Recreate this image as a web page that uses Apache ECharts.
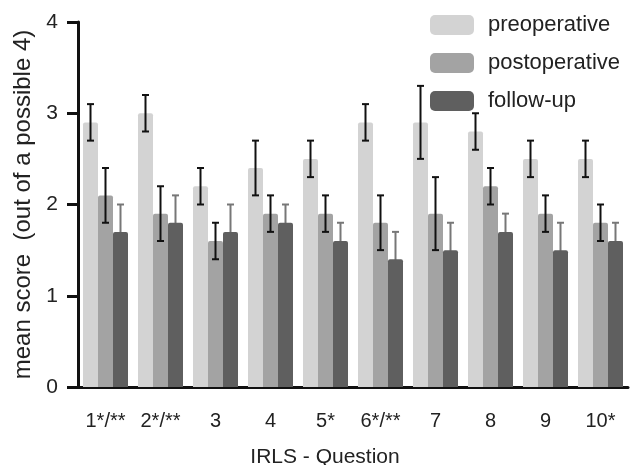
<!DOCTYPE html>
<html>
<head>
<meta charset="utf-8">
<script src="https://cdn.jsdelivr.net/npm/echarts@6/dist/echarts.min.js"></script>
<style>
  html, body { margin: 0; padding: 0; background: #fff; }
  #chart { width: 630px; height: 465px; }
</style>
</head>
<body>
<div id="chart"></div>
<script>
// categories on the x axis
var questions = ['1*/**', '2*/**', '3', '4', '5*', '6*/**', '7', '8', '9', '10*'];
var seriesNames = ['preoperative', 'postoperative', 'follow-up'];

// means
var preMean = [2.9, 3.0, 2.2, 2.4, 2.5, 2.9, 2.9, 2.8, 2.5, 2.5];
var postMean = [2.1, 1.9, 1.6, 1.9, 1.9, 1.8, 1.9, 2.2, 1.9, 1.8];
var followMean = [1.7, 1.8, 1.7, 1.8, 1.6, 1.4, 1.5, 1.7, 1.5, 1.6];

// error (+/-)
var preErr = [0.2, 0.2, 0.2, 0.3, 0.2, 0.2, 0.4, 0.2, 0.2, 0.2];
var postErr = [0.3, 0.3, 0.2, 0.2, 0.2, 0.3, 0.4, 0.2, 0.2, 0.2];
var followErr = [0.3, 0.3, 0.3, 0.2, 0.2, 0.3, 0.3, 0.2, 0.3, 0.2];

var yTicks = [0, 1, 2, 3, 4];

var colors = ['#d3d3d3', '#a3a3a3', '#5f5f5f'];
var barW = 15;
var font = '"Liberation Sans", Arial, sans-serif';

function errData(mean, err) {
    return mean.map(function(m, i) { return [i, m - err[i], m + err[i]]; });
}

// error bar drawing, offset = position of bar in group
function errRender(offset, color, lw) {
    return function(params, api) {
        var idx = api.value(0);
        var lo = api.coord([idx, api.value(1)]);
        var hi = api.coord([idx, api.value(2)]);
        var x = lo[0] + offset;
        var cap = 3.5;
        var st = { stroke: color, lineWidth: lw };
        return {
            type: 'group',
            children: [
                { type: 'line', shape: { x1: x, y1: lo[1], x2: x, y2: hi[1] }, style: st },
                { type: 'line', shape: { x1: x - cap, y1: hi[1], x2: x + cap, y2: hi[1] }, style: st },
                { type: 'line', shape: { x1: x - cap, y1: lo[1], x2: x + cap, y2: lo[1] }, style: st }
            ]
        };
    };
}

function barSeries(name, data, color) {
    return {
        name: name,
        type: 'bar',
        data: data,
        barWidth: barW,
        barGap: '0%',
        z: 3,
        itemStyle: { color: color, borderRadius: [2, 2, 0, 0] }
    };
}

var option = {
    animation: false,
    backgroundColor: '#fff',
    textStyle: { fontFamily: font },
    grid: { left: 78, right: 2, top: 22, bottom: 78, outerBoundsMode: 'none' },
    legend: {
        orient: 'vertical',
        left: 425,
        top: 9,
        itemWidth: 44,
        itemHeight: 20,
        itemGap: 16,
        icon: 'roundRect',
        data: seriesNames,
        textStyle: { fontSize: 22, color: '#222', fontFamily: font, padding: [0, 0, 0, 9] }
    },
    xAxis: {
        type: 'category',
        data: questions,
        boundaryGap: true,
        name: 'IRLS - Question',
        nameLocation: 'middle',
        nameGap: 60,
        nameTextStyle: { fontSize: 21, color: '#222', padding: [0, 56, 0, 0] },
        axisLine: { lineStyle: { color: '#111', width: 3 } },
        axisTick: { alignWithLabel: true, length: 11, lineStyle: { color: '#111', width: 3 } },
        axisLabel: { fontSize: 20, color: '#222', margin: 24 }
    },
    yAxis: {
        type: 'value',
        min: 0,
        max: 4,
        interval: 1,
        name: 'mean score  (out of a possible 4)',
        nameLocation: 'middle',
        nameGap: 25,
        nameTextStyle: { fontSize: 24, color: '#222' },
        axisLine: { show: true, lineStyle: { color: '#111', width: 3 } },
        axisTick: { show: true, length: 11, lineStyle: { color: '#111', width: 3 } },
        axisLabel: {
            fontSize: 21, color: '#222', margin: 20,
            formatter: function(v) { return yTicks.indexOf(v) >= 0 ? String(v) : ''; }
        },
        splitLine: { show: false }
    },
    series: [
        barSeries(seriesNames[0], preMean, colors[0]),
        barSeries(seriesNames[1], postMean, colors[1]),
        barSeries(seriesNames[2], followMean, colors[2]),
        {
            type: 'custom', name: 'preErr', z: 5,
            renderItem: errRender(-barW, '#111', 2),
            encode: { x: 0, y: [1, 2] },
            data: errData(preMean, preErr)
        },
        {
            type: 'custom', name: 'postErr', z: 5,
            renderItem: errRender(0, '#111', 2),
            encode: { x: 0, y: [1, 2] },
            data: errData(postMean, postErr)
        },
        {
            // drawn behind the dark bars, only the upper part shows
            type: 'custom', name: 'followErr', z: 1,
            renderItem: errRender(barW, '#777', 2),
            encode: { x: 0, y: [1, 2] },
            data: errData(followMean, followErr)
        }
    ]
};

var myChart = echarts.init(document.getElementById('chart'));
myChart.setOption(option);
</script>
</body>
</html>
